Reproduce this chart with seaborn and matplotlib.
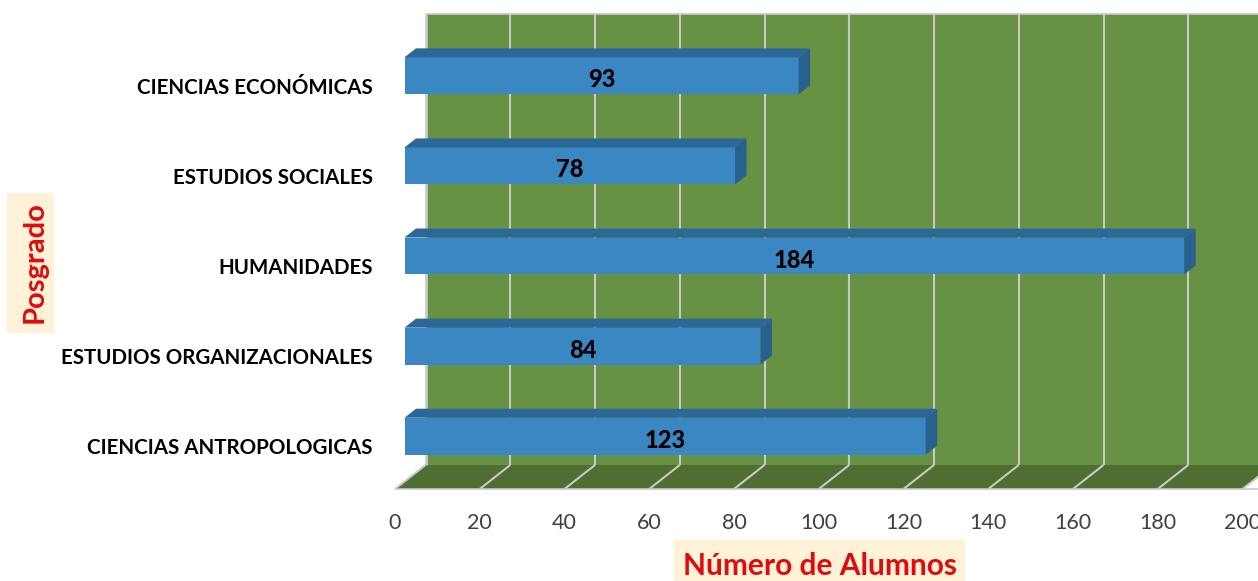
import matplotlib
matplotlib.use("Agg")
import matplotlib.pyplot as plt
import seaborn as sns
import pandas as pd
from matplotlib.patches import Polygon, Rectangle
from matplotlib.lines import Line2D
from matplotlib.transforms import IdentityTransform, ScaledTranslation

categories = ["CIENCIAS ECONÓMICAS", "ESTUDIOS SOCIALES", "HUMANIDADES",
              "ESTUDIOS ORGANIZACIONALES", "CIENCIAS ANTROPOLOGICAS"]
values = [93, 78, 184, 84, 123]
x_ticks = list(range(0, 201, 20))
x_title = "Número de Alumnos"
y_title = "Posgrado"

W, H = 1258, 581
C_WALL, C_FLOOR, C_GRID = "#679243", "#4F6E31", "#C9C9C9"
C_FRONT, C_TOP, C_SIDE = "#3A87C4", "#2B6898", "#28618F"
C_CREAM, C_RED, C_TEXT = "#FFF2D9", "#E00B0B", "#404040"
FONT = "Lato"

sns.set_style("white")
plt.rcParams["font.family"] = [FONT, "DejaVu Sans"]

fig = plt.figure(figsize=(W / 100, H / 100), dpi=100, facecolor="white")
FX0, FRONT_Y, BACK_Y, TOP_Y = 395, 489, 465, 14
DX, PX_PER = 30.5, 4.2375
BAR_X0 = 404.5
ax = fig.add_axes([FX0 / W, (H - FRONT_Y) / H, (W - FX0) / W, FRONT_Y / H])
ax.patch.set_visible(False)

df = pd.DataFrame({"posgrado": categories, "alumnos": values})
sns.barplot(data=df, y="posgrado", x="alumnos", orient="h", color=C_FRONT,
            saturation=1, width=0.41, linewidth=0, ax=ax)

ax.set_xlim((FX0 - BAR_X0) / PX_PER, (W - BAR_X0) / PX_PER)
ax.set_ylim((FRONT_Y - 75.8) / 90.1, -75.8 / 90.1)
sns.despine(ax=ax, left=True, bottom=True)

T = IdentityTransform()
def P(x, y):
    return (x, H - y)

def tick_px(v):
    return FX0 + v * PX_PER

# wall and floor
ax.add_patch(Polygon([P(FX0 + DX, TOP_Y), P(W, TOP_Y), P(W, BACK_Y), P(FX0 + DX, BACK_Y)],
                     transform=T, facecolor=C_WALL, edgecolor="none", clip_on=False, zorder=0.5))
ax.add_patch(Polygon([P(FX0, FRONT_Y), P(FX0 + DX, BACK_Y), P(W, BACK_Y), P(W, FRONT_Y),
                      P(tick_px(200), FRONT_Y)],
                     transform=T, facecolor=C_FLOOR, edgecolor="none", clip_on=False, zorder=0.6))
# white triangle closing the floor at the right
ax.add_patch(Polygon([P(tick_px(200), FRONT_Y), P(W, FRONT_Y), P(W, FRONT_Y - (W - tick_px(200)) * 24 / DX)],
                     transform=T, facecolor="white", edgecolor="none", clip_on=False, zorder=0.7))

def gl(xs, ys, lw=1.5):
    ax.add_line(Line2D(xs, [H - y for y in ys], transform=T, color=C_GRID, lw=lw,
                       clip_on=False, zorder=1, solid_capstyle="butt"))

for v in x_ticks:
    x = tick_px(v)
    gl([x, x + DX], [FRONT_Y, BACK_Y])
    gl([x + DX, x + DX], [BACK_Y, TOP_Y], lw=2.0 if v == 0 else 1.5)
gl([FX0, W], [FRONT_Y, FRONT_Y], lw=1.2)
gl([FX0 + DX, W], [TOP_Y, TOP_Y], lw=1.2)

# 3-D depth of each bar, taken from the bars seaborn drew
fig.canvas.draw()
D_X, D_Y = 11.5, 9
for bar, val, i in zip(ax.patches[:len(values)], values, range(len(values))):
    bar.set_zorder(3)
    bb = bar.get_window_extent()
    x0, x1, y0, y1 = bb.x0, bb.x1, bb.y0, bb.y1
    ax.add_patch(Polygon([(x0, y1), (x1, y1), (x1 + D_X, y1 + D_Y), (x0 + D_X, y1 + D_Y)],
                         transform=T, facecolor=C_TOP, edgecolor="none", clip_on=False, zorder=3))
    ax.add_patch(Polygon([(x1, y0), (x1 + D_X, y0 + D_Y), (x1 + D_X, y1 + D_Y), (x1, y1)],
                         transform=T, facecolor=C_SIDE, edgecolor="none", clip_on=False, zorder=3))
    ax.annotate(str(val), xy=(val / 2, i), xytext=(0, -2.9), textcoords="offset points",
                ha="center", va="center", fontsize=17, fontweight=900, color="black",
                family=FONT, zorder=5)

# ticks
ax.set_xlabel("")
ax.set_ylabel("")
ax.set_xticks(x_ticks)
ax.set_xticklabels([str(v) for v in x_ticks], fontsize=15.5, color=C_TEXT)
ax.tick_params(axis="x", length=0, pad=17.5)
ax.tick_params(axis="y", length=0, pad=16)
down = ScaledTranslation(0, -10 / 100, fig.dpi_scale_trans)
for lab in ax.get_yticklabels():
    lab.set_fontsize(14.8)
    lab.set_fontweight("bold")
    lab.set_color("black")
    lab.set_transform(lab.get_transform() + down)
shift = ScaledTranslation(-(BAR_X0 - FX0) / 100, 0, fig.dpi_scale_trans)
for lab in ax.get_xticklabels():
    lab.set_transform(lab.get_transform() + shift)

# axis titles with cream backgrounds
fig.add_artist(Rectangle((674, H - 581), 291, 41, transform=T, facecolor=C_CREAM, edgecolor="none", zorder=-1))
fig.add_artist(Rectangle((7, H - 333), 47, 140, transform=T, facecolor=C_CREAM, edgecolor="none", zorder=-1))
ax.set_xlabel(x_title, fontsize=21.5, fontweight="bold", color=C_RED)
ax.xaxis.set_label_coords(820, H - 566, transform=T)
ax.xaxis.label.set_va("center")
ax.set_ylabel(y_title, fontsize=21, fontweight="bold", color=C_RED)
ax.yaxis.set_label_coords(35, H - 262, transform=T)
ax.yaxis.label.set_va("center")

fig.savefig("out.png", dpi=100)
